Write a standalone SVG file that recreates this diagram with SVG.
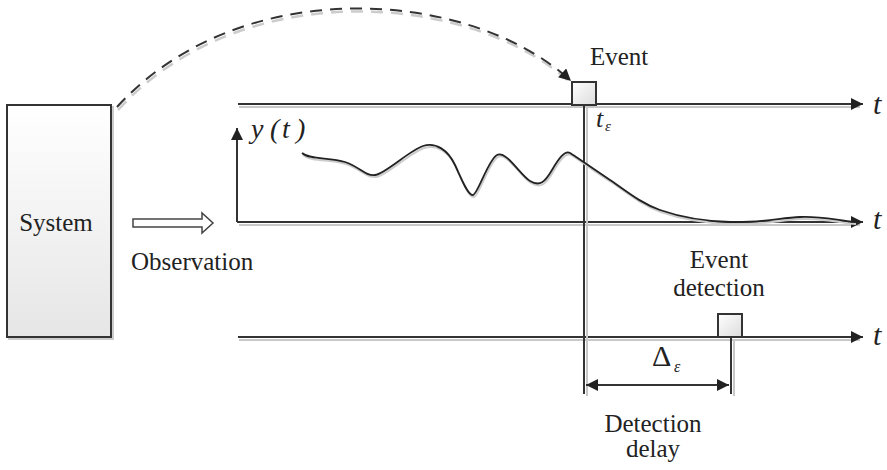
<svg xmlns="http://www.w3.org/2000/svg" width="887" height="470" viewBox="0 0 887 470">
<style>
.ln{stroke:#333;stroke-width:2;fill:none}
.sh{stroke:#c8c8c8;stroke-width:2;fill:none}
.tx{font-family:"Liberation Serif","Times New Roman",serif;font-size:25px;fill:#222}
.it{font-family:"Liberation Serif","Times New Roman",serif;font-style:italic;fill:#222}
</style>
<defs>
<linearGradient id="g" x1="0" y1="0" x2="0" y2="1">
<stop offset="0" stop-color="#ffffff"/><stop offset="1" stop-color="#e6e6e6"/>
</linearGradient>
<linearGradient id="gs" x1="0" y1="0" x2="1" y2="1">
<stop offset="0" stop-color="#ffffff"/><stop offset="1" stop-color="#dcdcdc"/>
</linearGradient>
<marker id="ah" viewBox="0 0 10 10" refX="10" refY="5" markerWidth="7" markerHeight="6" orient="auto" markerUnits="strokeWidth">
<path d="M0,0L10,5L0,10z" fill="#222"/>
</marker>
<marker id="ahs" viewBox="0 0 10 10" refX="0" refY="5" markerWidth="7" markerHeight="6" orient="auto" markerUnits="strokeWidth">
<path d="M10,0L0,5L10,10z" fill="#222"/>
</marker>
</defs>

<g id="system">
<rect x="9" y="107" width="104" height="232" fill="none" stroke="#ccc" stroke-width="2"/>
<rect x="7" y="105" width="104" height="232" fill="url(#g)" stroke="#333" stroke-width="2"/>
<text class="tx" x="56" y="231" text-anchor="middle">System</text>
</g>

<g id="observation">
<path d="M133,219H202V213L213,223L202,233V227H133Z" fill="#fff" stroke="#444" stroke-width="1.5"/>
<text class="tx" x="131" y="270">Observation</text>
</g>

<g id="connectors">
<path d="M117,107C240,-28 470,-12 571,81" fill="none" stroke="#ccc" stroke-width="2.5" stroke-dasharray="12,8" transform="translate(1,3)"/>
<path d="M117,107C240,-28 470,-12 571,81" class="ln" stroke-width="2.5" stroke-dasharray="12,8" marker-end="url(#ah)"/>
<line class="sh" x1="239" y1="107" x2="860" y2="107"/>
<line class="ln" x1="238" y1="104" x2="863" y2="104" stroke="#555" marker-end="url(#ah)"/>
<line class="ln" x1="237" y1="222" x2="237" y2="128" marker-end="url(#ah)"/>
<line class="sh" x1="239" y1="225" x2="860" y2="225"/>
<line class="ln" x1="237" y1="222" x2="863" y2="222" marker-end="url(#ah)"/>
<line class="sh" x1="239" y1="340" x2="860" y2="340"/>
<line class="ln" x1="238" y1="337" x2="863" y2="337" marker-end="url(#ah)"/>
<line class="sh" x1="587" y1="106" x2="587" y2="396"/>
<line class="ln" x1="584" y1="105" x2="584" y2="394"/>
<line class="sh" x1="734" y1="339" x2="734" y2="396"/>
<line class="ln" x1="731" y1="337" x2="731" y2="394"/>
<line class="ln" x1="586" y1="385" x2="729" y2="385" marker-start="url(#ahs)" marker-end="url(#ah)"/>
<path d="M302,153C310,160 330,157 345,162S365,176 375,175S410,150 423,146S448,150 455,165S468,196 473,195S488,160 497,155S520,175 530,181S545,182 552,170S565,150 570,153S595,170 610,180S640,203 660,210S700,221 730,222S780,218 800,217S835,220 855,222" fill="none" stroke="#ccc" stroke-width="2" transform="translate(1,2)"/>
<path d="M302,153C310,160 330,157 345,162S365,176 375,175S410,150 423,146S448,150 455,165S468,196 473,195S488,160 497,155S520,175 530,181S545,182 552,170S565,150 570,153S595,170 610,180S640,203 660,210S700,221 730,222S780,218 800,217S835,220 855,222" fill="none" stroke="#222" stroke-width="1.8"/>
</g>

<g id="event">
<rect x="572" y="82" width="24" height="23" fill="url(#gs)" stroke="#333" stroke-width="2"/>
<text class="tx" x="590" y="65">Event</text>
<text class="it" x="596" y="127" font-size="26">t</text>
<text class="it" x="605" y="131" font-size="15">ε</text>
</g>

<g id="detection">
<rect x="718" y="314" width="24" height="23" fill="url(#gs)" stroke="#333" stroke-width="2"/>
<text class="tx" x="719" y="268" text-anchor="middle">Event</text>
<text class="tx" x="719" y="296" text-anchor="middle">detection</text>
</g>

<g id="delay">
<text x="652" y="366" font-family="Liberation Serif,serif" font-size="30" fill="#222">Δ</text>
<text class="it" x="674" y="372" font-size="16">ε</text>
<text class="tx" x="653" y="432" text-anchor="middle">Detection</text>
<text class="tx" x="653" y="457" text-anchor="middle">delay</text>
</g>

<g id="labels">
<text class="it" x="251" y="138" font-size="28">y</text>
<text class="it" x="270" y="138" font-size="28">(</text>
<text class="it" x="282" y="138" font-size="28">t</text>
<text class="it" x="296" y="138" font-size="28">)</text>
<text class="it" x="873" y="114" font-size="30">t</text>
<text class="it" x="873" y="229" font-size="30">t</text>
<text class="it" x="873" y="345" font-size="30">t</text>
</g>
</svg>
